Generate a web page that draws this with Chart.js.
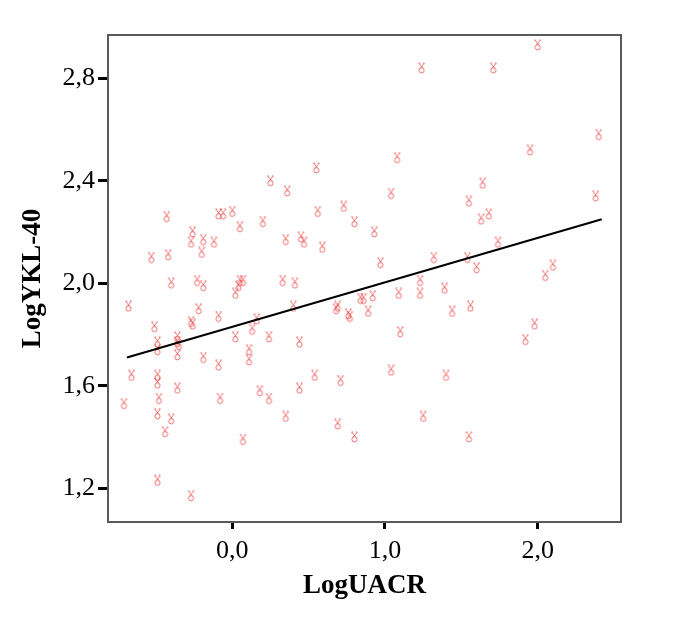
<!DOCTYPE html>
<html>
<head>
<meta charset="utf-8">
<script src="https://cdn.jsdelivr.net/npm/chart.js@4.4.1/dist/chart.umd.min.js"></script>
<style>
  html, body { margin: 0; padding: 0; background: #ffffff; }
  #wrap { width: 685px; height: 638px; position: relative; }
</style>
</head>
<body>
<div id="wrap"><canvas id="c" width="685" height="638"></canvas></div>
<script>
// ---- data ----
const logUACR = [
  0.25, -0.43, -0.09, -0.06, 0.00, 0.05, 0.20, -0.26, -0.27, -0.19,
  -0.12, -0.20, -0.53, -0.42, -0.40, -0.23, -0.19, 0.05, 0.07, 0.04,
  0.02, -0.68, -0.22, -0.09, -0.27, -0.26, -0.51, 0.16, 0.13, 0.24,
  0.02, -0.49, -0.49, -0.36, -0.36, -0.35, -0.36, -0.19, 0.11, 0.11,
  -0.09, -0.66, -0.49, -0.49, -0.36, -0.71, -0.48, -0.08, 0.18, 0.24,
  -0.49, -0.40, -0.44, 0.07, -0.49, -0.27,
  1.24, 1.08, 0.55, 0.36, 1.04, 0.56, 0.73, 0.80, 0.93, 0.35,
  0.45, 0.47, 0.59, 0.97, 1.32, 0.33, 0.41, 1.23, 0.40, 0.68,
  0.69, 0.76, 0.77, 0.84, 0.86, 0.92, 0.89, 1.09, 1.23, 1.39,
  1.10, 0.44, 0.54, 0.71, 0.44, 1.04, 1.40, 0.35, 0.69, 0.80,
  1.25,
  2.00, 1.71, 2.40, 1.95, 1.64, 1.55, 2.38, 1.63, 1.68, 1.74,
  1.54, 1.60, 2.05, 2.10, 1.44, 1.56, 1.98, 1.92, 1.55
];
const logYKL40 = [
  2.40, 2.26, 2.27, 2.27, 2.28, 2.22, 2.24, 2.20, 2.16, 2.17,
  2.16, 2.12, 2.10, 2.11, 2.00, 2.01, 1.99, 2.01, 2.01, 1.99,
  1.96, 1.91, 1.90, 1.87, 1.85, 1.84, 1.83, 1.86, 1.82, 1.79,
  1.79, 1.77, 1.74, 1.79, 1.77, 1.76, 1.72, 1.71, 1.74, 1.70,
  1.68, 1.64, 1.64, 1.61, 1.59, 1.53, 1.55, 1.55, 1.58, 1.55,
  1.49, 1.47, 1.42, 1.39, 1.23, 1.17,
  2.84, 2.49, 2.45, 2.36, 2.35, 2.28, 2.30, 2.24, 2.20, 2.17,
  2.18, 2.16, 2.14, 2.08, 2.10, 2.01, 2.00, 2.01, 1.91, 1.90,
  1.91, 1.88, 1.87, 1.94, 1.94, 1.95, 1.89, 1.96, 1.96, 1.98,
  1.81, 1.77, 1.64, 1.62, 1.59, 1.66, 1.64, 1.48, 1.45, 1.40,
  1.48,
  2.93, 2.84, 2.58, 2.52, 2.39, 2.32, 2.34, 2.25, 2.27, 2.16,
  2.10, 2.06, 2.03, 2.07, 1.89, 1.91, 1.84, 1.78, 1.40
];
// fit line end points
const fitX = [-0.69, 2.42];
const fitY = [1.71, 2.25];
// axes
const xTickValues = [0, 1, 2];
const xTickLabels = ['0,0', '1,0', '2,0'];
const yTickValues = [1.2, 1.6, 2.0, 2.4, 2.8];
const yTickLabels = ['1,2', '1,6', '2,0', '2,4', '2,8'];
const xTitle = 'LogUACR';
const yTitle = 'LogYKL-40';

// ---- marker glyph ----
function makeGlyph() {
  const g = document.createElement('canvas');
  g.width = 9; g.height = 12;
  const c = g.getContext('2d');
  c.strokeStyle = 'rgba(235,70,70,0.85)';
  c.lineWidth = 0.9;
  c.beginPath();
  c.arc(4.5, 8.3, 2.6, 0, Math.PI * 2);
  c.stroke();
  c.beginPath();
  c.moveTo(1.6, 1.0); c.lineTo(5.6, 5.9);
  c.moveTo(7.4, 1.0); c.lineTo(3.4, 5.9);
  c.moveTo(1.6, 1.0); c.lineTo(3.2, 1.0);
  c.moveTo(7.4, 1.0); c.lineTo(5.8, 1.0);
  c.stroke();
  return g;
}
const glyph = makeGlyph();

const points = logUACR.map((x, i) => ({ x: x, y: logYKL40[i] }));
const fitPoints = fitX.map((x, i) => ({ x: x, y: fitY[i] }));

const framePlugin = {
  id: 'frame',
  afterDraw(chart) {
    const { ctx, chartArea: a } = chart;
    ctx.save();
    ctx.strokeStyle = '#5a5a5a';
    ctx.lineWidth = 2;
    ctx.strokeRect(a.left, a.top, a.right - a.left, a.bottom - a.top);
    ctx.restore();
  }
};

const serif = "'Liberation Serif', 'Times New Roman', serif";

new Chart(document.getElementById('c'), {
  type: 'scatter',
  data: {
    datasets: [
      {
        label: 'points',
        data: points,
        pointStyle: glyph,
        pointRadius: 5,
        pointHoverRadius: 5,
        showLine: false,
        order: 2
      },
      {
        label: 'fit',
        type: 'line',
        data: fitPoints,
        borderColor: '#000000',
        borderWidth: 2,
        pointRadius: 0,
        fill: false,
        order: 1
      }
    ]
  },
  options: {
    responsive: false,
    animation: false,
    events: [],
    layout: { padding: { left: 0, right: 64, top: 35, bottom: 0 } },
    plugins: { legend: { display: false }, tooltip: { enabled: false } },
    scales: {
      x: {
        type: 'linear',
        min: -0.814,
        max: 2.546,
        afterFit(s) { s.height = 116; },
        afterBuildTicks(s) { s.ticks = xTickValues.map(v => ({ value: v })); },
        border: { display: false },
        grid: { drawOnChartArea: false, drawTicks: true, tickLength: 7, tickColor: '#000', tickWidth: 3 },
        ticks: {
          color: '#000',
          padding: 7,
          maxRotation: 0,
          font: { family: serif, size: 26 },
          callback(v) { const i = xTickValues.indexOf(v); return i >= 0 ? xTickLabels[i] : ''; }
        },
        title: {
          display: true, text: xTitle, color: '#000',
          font: { family: serif, size: 27, weight: 'bold' },
          padding: { top: 0, bottom: 36 }
        }
      },
      y: {
        type: 'linear',
        min: 1.068,
        max: 2.969,
        afterFit(s) { s.width = 108; },
        afterBuildTicks(s) { s.ticks = yTickValues.map(v => ({ value: v })); },
        border: { display: false },
        grid: { drawOnChartArea: false, drawTicks: true, tickLength: 10, tickColor: '#000', tickWidth: 3 },
        ticks: {
          color: '#000',
          padding: 3,
          font: { family: serif, size: 26 },
          callback(v) { const i = yTickValues.indexOf(v); return i >= 0 ? yTickLabels[i] : ''; }
        },
        title: {
          display: true, text: yTitle, color: '#000',
          font: { family: serif, size: 27, weight: 'bold' },
          padding: { top: 17, bottom: 0 }
        }
      }
    }
  },
  plugins: [framePlugin]
});
</script>
</body>
</html>
